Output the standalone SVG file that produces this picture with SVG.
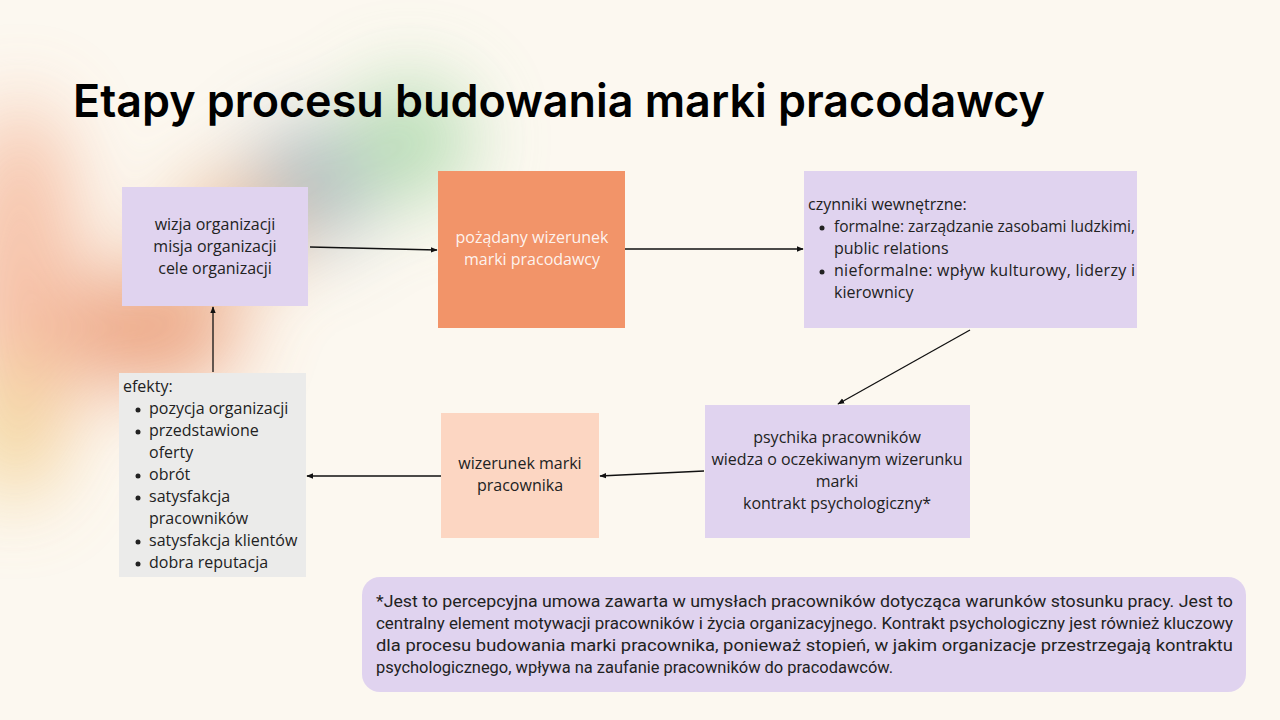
<svg xmlns="http://www.w3.org/2000/svg" width="1280" height="720" viewBox="0 0 1280 720">
<defs>
<filter id="blur" x="-50%" y="-50%" width="200%" height="200%"><feGaussianBlur stdDeviation="40"/></filter>
<marker id="ah" viewBox="0 0 10 10" refX="9" refY="5" markerWidth="7" markerHeight="7" orient="auto-start-reverse" markerUnits="userSpaceOnUse"><path d="M0,1 L10,5 L0,9 z" fill="#111"/></marker>
<style>
.t{font-family:"Open Sans","Noto Sans",sans-serif;font-size:16px;fill:#222}
.c{text-anchor:middle}
.w{fill:#ffffff;fill-opacity:0.9}
.n{font-family:"Roboto","Liberation Sans",sans-serif;font-size:16.5px;fill:#222}
.cn line{stroke:#111;stroke-width:1.3;marker-end:url(#ah)}
</style>
</defs>
<rect width="1280" height="720" fill="#fcf8f0"/>
<g filter="url(#blur)" opacity="0.85">
<ellipse cx="20" cy="300" rx="60" ry="200" fill="#f5b79a"/>
<ellipse cx="10" cy="430" rx="40" ry="70" fill="#f2d08a"/>
<ellipse cx="150" cy="330" rx="90" ry="55" fill="#e9936a"/>
<ellipse cx="310" cy="185" rx="60" ry="60" fill="#9fb0b8"/>
<ellipse cx="410" cy="140" rx="60" ry="60" fill="#a8d8a8"/>
<ellipse cx="230" cy="230" rx="60" ry="50" fill="#e7b48f"/>
</g>
<text x="73" y="117" font-family="Inter,'Liberation Sans',sans-serif" font-weight="600" font-size="45" fill="#000" textLength="972" lengthAdjust="spacingAndGlyphs">Etapy procesu budowania marki pracodawcy</text>
<g class="cn">
<line x1="310" y1="247" x2="437" y2="250"/>
<line x1="625" y1="249" x2="803" y2="249"/>
<line x1="970" y1="330" x2="838" y2="404"/>
<line x1="704" y1="471" x2="600" y2="476"/>
<line x1="441" y1="476" x2="307" y2="476"/>
<line x1="213" y1="372" x2="213" y2="307"/>
</g>
<g id="wizja">
<rect x="122" y="187" width="186" height="119" fill="#e0d3ef"/>
<text class="t c" x="215" y="230">wizja organizacji</text>
<text class="t c" x="215" y="252">misja organizacji</text>
<text class="t c" x="215" y="274">cele organizacji</text>
</g>
<g id="pozadany">
<rect x="438" y="171" width="187" height="157" fill="#f29469"/>
<text class="t c w" x="532" y="243">pożądany wizerunek</text>
<text class="t c w" x="532" y="265">marki pracodawcy</text>
</g>
<g id="czynniki">
<rect x="804" y="171" width="333" height="157" fill="#e0d3ef"/>
<text class="t" x="808" y="210">czynniki wewnętrzne:</text>
<circle cx="822" cy="228" r="2.5" fill="#222"/>
<text class="t" x="834" y="232" textLength="301" lengthAdjust="spacingAndGlyphs">formalne: zarządzanie zasobami ludzkimi,</text>
<text class="t" x="834" y="254">public relations</text>
<circle cx="822" cy="272" r="2.5" fill="#222"/>
<text class="t" x="834" y="276" textLength="301" lengthAdjust="spacing">nieformalne: wpływ kulturowy, liderzy i</text>
<text class="t" x="834" y="298">kierownicy</text>
</g>
<g id="psychika">
<rect x="705" y="405" width="265" height="133" fill="#e0d3ef"/>
<text class="t c" x="837" y="443">psychika pracowników</text>
<text class="t c" x="837" y="465">wiedza o oczekiwanym wizerunku</text>
<text class="t c" x="837" y="487">marki</text>
<text class="t c" x="837" y="509">kontrakt psychologiczny*</text>
</g>
<g id="wizerunek">
<rect x="441" y="413" width="158" height="125" fill="#fcd6c2"/>
<text class="t c" x="520" y="469">wizerunek marki</text>
<text class="t c" x="520" y="491">pracownika</text>
</g>
<g id="efekty">
<rect x="119" y="373" width="187" height="204" fill="#ebebea"/>
<text class="t" x="123" y="392">efekty:</text>
<g fill="#222">
<circle cx="138" cy="410" r="2.5"/><circle cx="138" cy="432" r="2.5"/><circle cx="138" cy="476" r="2.5"/><circle cx="138" cy="498" r="2.5"/><circle cx="138" cy="542" r="2.5"/><circle cx="138" cy="564" r="2.5"/>
</g>
<text class="t" x="149" y="414">pozycja organizacji</text>
<text class="t" x="149" y="436">przedstawione</text>
<text class="t" x="149" y="458">oferty</text>
<text class="t" x="149" y="480">obrót</text>
<text class="t" x="149" y="502">satysfakcja</text>
<text class="t" x="149" y="524">pracowników</text>
<text class="t" x="149" y="546">satysfakcja klientów</text>
<text class="t" x="149" y="568">dobra reputacja</text>
</g>
<g id="przypis">
<rect x="362" y="577" width="884" height="115" rx="18" fill="#e0d3ef"/>
<text class="n" x="376" y="607" textLength="857" lengthAdjust="spacingAndGlyphs">*Jest to percepcyjna umowa zawarta w umysłach pracowników dotycząca warunków stosunku pracy. Jest to</text>
<text class="n" x="376" y="629" textLength="857" lengthAdjust="spacingAndGlyphs">centralny element motywacji pracowników i życia organizacyjnego. Kontrakt psychologiczny jest również kluczowy</text>
<text class="n" x="376" y="651" textLength="857" lengthAdjust="spacingAndGlyphs">dla procesu budowania marki pracownika, ponieważ stopień, w jakim organizacje przestrzegają kontraktu</text>
<text class="n" x="376" y="673" textLength="517" lengthAdjust="spacingAndGlyphs">psychologicznego, wpływa na zaufanie pracowników do pracodawców.</text>
</g>
</svg>
